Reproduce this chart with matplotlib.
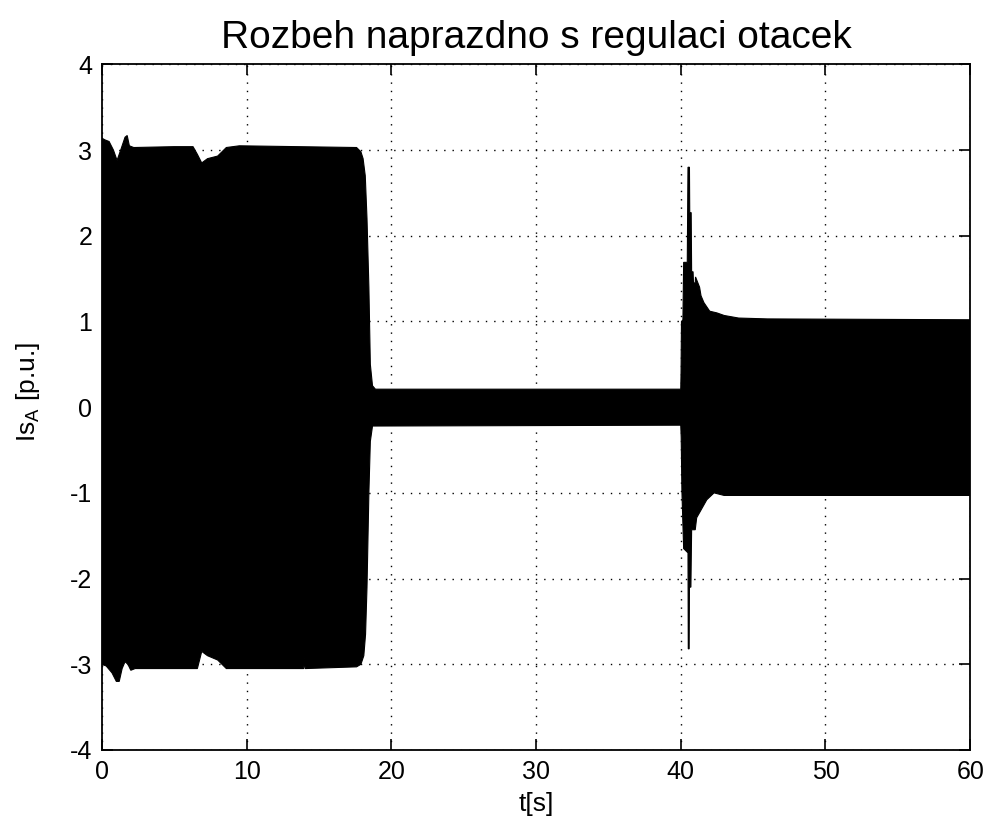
import matplotlib
matplotlib.use("Agg")
import matplotlib.pyplot as plt

# Envelope of the (densely oscillating) stator current
t_upper = [0.0, 0.2, 0.5, 0.8, 1.05, 1.3, 1.6, 1.75, 1.9, 2.2, 5.0, 6.3, 6.6, 6.9, 7.3,
           8.0, 8.6, 9.5, 17.6, 17.9, 18.05, 18.2, 18.32, 18.45, 18.55, 18.7, 18.9,
           40.0, 40.02, 40.05, 40.15, 40.2, 40.45, 40.5, 40.6, 40.62, 40.72, 40.75,
           40.85, 40.88, 41.0, 41.02, 41.3, 41.4, 41.6, 42.0, 42.5, 43.0, 44.0, 46.0, 60.0]
upper = [3.14, 3.12, 3.10, 3.00, 2.88, 3.00, 3.15, 3.17, 3.05, 3.03, 3.04, 3.04, 2.95, 2.85, 2.90,
         2.93, 3.03, 3.05, 3.03, 2.98, 2.90, 2.70, 2.20, 1.40, 0.50, 0.25, 0.21,
         0.21, 0.40, 1.00, 1.02, 1.69, 1.69, 2.80, 2.80, 2.27, 2.27, 1.58,
         1.58, 1.45, 1.45, 1.52, 1.40, 1.30, 1.22, 1.12, 1.10, 1.07, 1.04, 1.03, 1.02]

t_lower = [0.0, 0.3, 0.7, 1.0, 1.2, 1.4, 1.6, 1.8, 2.0, 2.3, 6.6, 6.9, 7.3, 8.0, 8.6,
           13.95, 14.0, 14.05, 17.6, 17.9, 18.1, 18.22, 18.32, 18.45, 18.55, 18.7,
           40.0, 40.03, 40.08, 40.2, 40.5, 40.52, 40.58, 40.6, 40.7, 40.75, 41.0,
           41.1, 41.4, 41.8, 42.3, 43.0, 60.0]
lower = [-3.00, -3.02, -3.10, -3.20, -3.20, -3.05, -2.97, -3.00, -3.07, -3.05, -3.05, -2.85, -2.90, -2.95, -3.05,
         -3.05, -2.93, -3.05, -3.03, -3.00, -2.90, -2.65, -2.10, -1.00, -0.40, -0.22,
         -0.21, -0.35, -0.98, -1.65, -1.70, -2.82, -2.82, -2.10, -2.10, -1.43, -1.43,
         -1.29, -1.20, -1.08, -1.00, -1.03, -1.03]

x_ticks = [0, 10, 20, 30, 40, 50, 60]
y_ticks = [-4, -3, -2, -1, 0, 1, 2, 3, 4]

plt.rcParams['font.family'] = ['Liberation Sans', 'DejaVu Sans']
plt.rcParams['mathtext.default'] = 'regular'
plt.rcParams['axes.unicode_minus'] = False

fig = plt.figure(figsize=(9.89, 8.32), dpi=100)
ax = fig.add_axes([0.103, 0.0986, 0.878, 0.824])

ax.fill(t_upper + t_lower[::-1], upper + lower[::-1], color='black', linewidth=0.8, zorder=3)

ax.set_xlim(0, 60)
ax.set_ylim(-4, 4)
ax.set_xticks(x_ticks)
ax.set_yticks(y_ticks)
ax.grid(True, linestyle=(0, (1, 5)), color='black', linewidth=1.0)
ax.tick_params(direction='in', length=8, width=1.2, top=True, right=True, labelsize=18, pad=7)
for s in ax.spines.values():
    s.set_linewidth(1.3)

ax.set_title('Rozbeh naprazdno s regulaci otacek', fontsize=28, pad=12)
ax.set_xlabel('t[s]', fontsize=19, labelpad=6)
ax.set_ylabel('Is$_A$ [p.u.]', fontsize=19)
ax.yaxis.set_label_coords(-0.069, 0.522)

fig.savefig('out.png', dpi=100, facecolor='white')
